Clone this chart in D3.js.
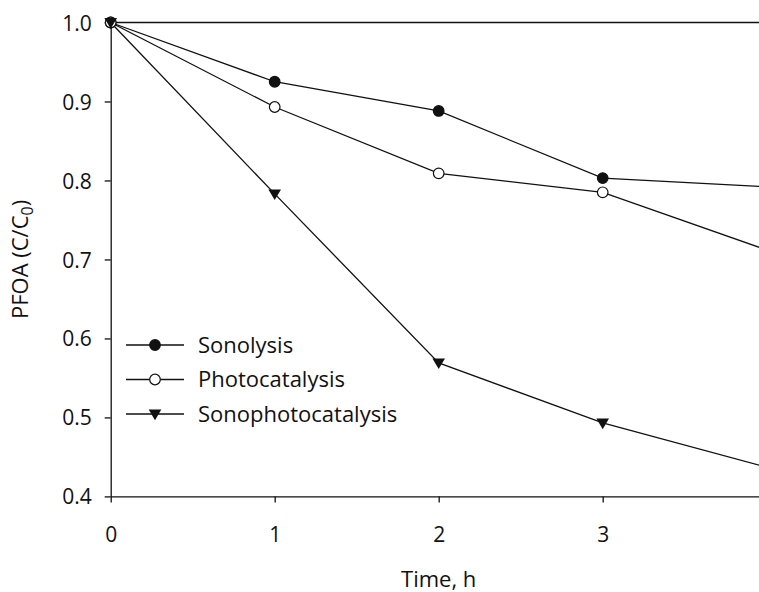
<!DOCTYPE html>
<html>
<head>
<meta charset="utf-8">
<script src="https://cdn.jsdelivr.net/npm/d3@7"></script>
<style>
  body { margin: 0; background: white; }
  text { font-family: 'Open Sans', 'DejaVu Sans', sans-serif; fill: #111; }
</style>
</head>
<body>
<svg id="chart"></svg>
<script>
const times = [0, 1, 2, 3, 4];
const sonolysis = [1.0, 0.925, 0.888, 0.803, 0.792];
const photocatalysis = [1.0, 0.893, 0.809, 0.785, 0.712];
const sonophotocatalysis = [1.0, 0.783, 0.569, 0.493, 0.437];
const xTicks = [0, 1, 2, 3];
const yTicks = [0.4, 0.5, 0.6, 0.7, 0.8, 0.9, 1.0];

const width = 759;
const height = 592;

const svg = d3.select("#chart")
    .attr("width", width)
    .attr("height", height);

const xScale = d3.scaleLinear().domain([0, 4]).range([110.7, 766.7]);
const yScale = d3.scaleLinear().domain([0.4, 1.0]).range([496.4, 22.5]);

// Frame: top and right edges
svg.append("line")
    .attr("x1", xScale(0)).attr("x2", xScale(4))
    .attr("y1", yScale(1.0)).attr("y2", yScale(1.0))
    .attr("stroke", "#111").attr("stroke-width", 1.3);
svg.append("line")
    .attr("x1", xScale(4)).attr("x2", xScale(4))
    .attr("y1", yScale(1.0)).attr("y2", yScale(0.4))
    .attr("stroke", "#111").attr("stroke-width", 1.3);

// Axes
const xAxis = svg.append("g")
    .attr("transform", `translate(0,${yScale(0.4)})`)
    .call(d3.axisBottom(xScale).tickValues(xTicks).tickFormat(d3.format("d")).tickSize(6).tickSizeOuter(0));
const yAxis = svg.append("g")
    .attr("transform", `translate(${xScale(0)},0)`)
    .call(d3.axisLeft(yScale).tickValues(yTicks).tickFormat(d3.format(".1f")).tickSize(6).tickSizeOuter(0));

[xAxis, yAxis].forEach(g => {
    g.select(".domain").attr("stroke", "#111").attr("stroke-width", 1.3);
    g.selectAll(".tick line").attr("stroke", "#111").attr("stroke-width", 1.3);
    g.selectAll(".tick text").style("font-size", "21px").attr("fill", "#111");
});
xAxis.selectAll(".tick text").attr("y", 46).attr("dy", 0);
yAxis.selectAll(".tick text").attr("x", -19).attr("dy", "0.36em");

// Series
const series = [
    { name: "Sonolysis", values: sonolysis, marker: "filled" },
    { name: "Photocatalysis", values: photocatalysis, marker: "open" },
    { name: "Sonophotocatalysis", values: sonophotocatalysis, marker: "triangle" }
];

const line = d3.line()
    .x((d, i) => xScale(times[i]))
    .y(d => yScale(d));

function drawMarker(g, type, x, y) {
    if (type === "triangle") {
        g.append("path")
            .attr("d", `M${x - 6.3},${y - 4.5} L${x + 6.3},${y - 4.5} L${x},${y + 6.2} Z`)
            .attr("fill", "#111");
    } else {
        g.append("circle")
            .attr("cx", x).attr("cy", y).attr("r", 5.3)
            .attr("fill", type === "filled" ? "#111" : "white")
            .attr("stroke", "#111")
            .attr("stroke-width", 1.2);
    }
}

series.forEach(s => {
    svg.append("path")
        .datum(s.values)
        .attr("d", line)
        .attr("fill", "none")
        .attr("stroke", "#111")
        .attr("stroke-width", 1.3);
});

series.forEach(s => {
    const g = svg.append("g");
    s.values.slice(0, 4).forEach((v, i) => drawMarker(g, s.marker, xScale(times[i]), yScale(v)));
});

// Legend
const legend = svg.append("g");
series.forEach((s, i) => {
    const y = 345 + i * 34.5;
    legend.append("line")
        .attr("x1", 126).attr("x2", 184)
        .attr("y1", y).attr("y2", y)
        .attr("stroke", "#111").attr("stroke-width", 1.3);
    drawMarker(legend, s.marker, 155, y);
    legend.append("text")
        .attr("x", 198).attr("y", y + 7.5)
        .style("font-size", "22px")
        .text(s.name);
});

// Axis titles
svg.append("text")
    .attr("x", xScale(2)).attr("y", 587)
    .attr("text-anchor", "middle")
    .style("font-size", "22px")
    .text("Time, h");

const yTitle = svg.append("text")
    .attr("transform", `translate(28,${yScale(0.7)}) rotate(-90)`)
    .attr("text-anchor", "middle")
    .style("font-size", "22px");
yTitle.append("tspan").text("PFOA (C/C");
yTitle.append("tspan").attr("dy", 5).style("font-size", "16px").text("0");
yTitle.append("tspan").attr("dy", -5).text(")");
</script>
</body>
</html>
